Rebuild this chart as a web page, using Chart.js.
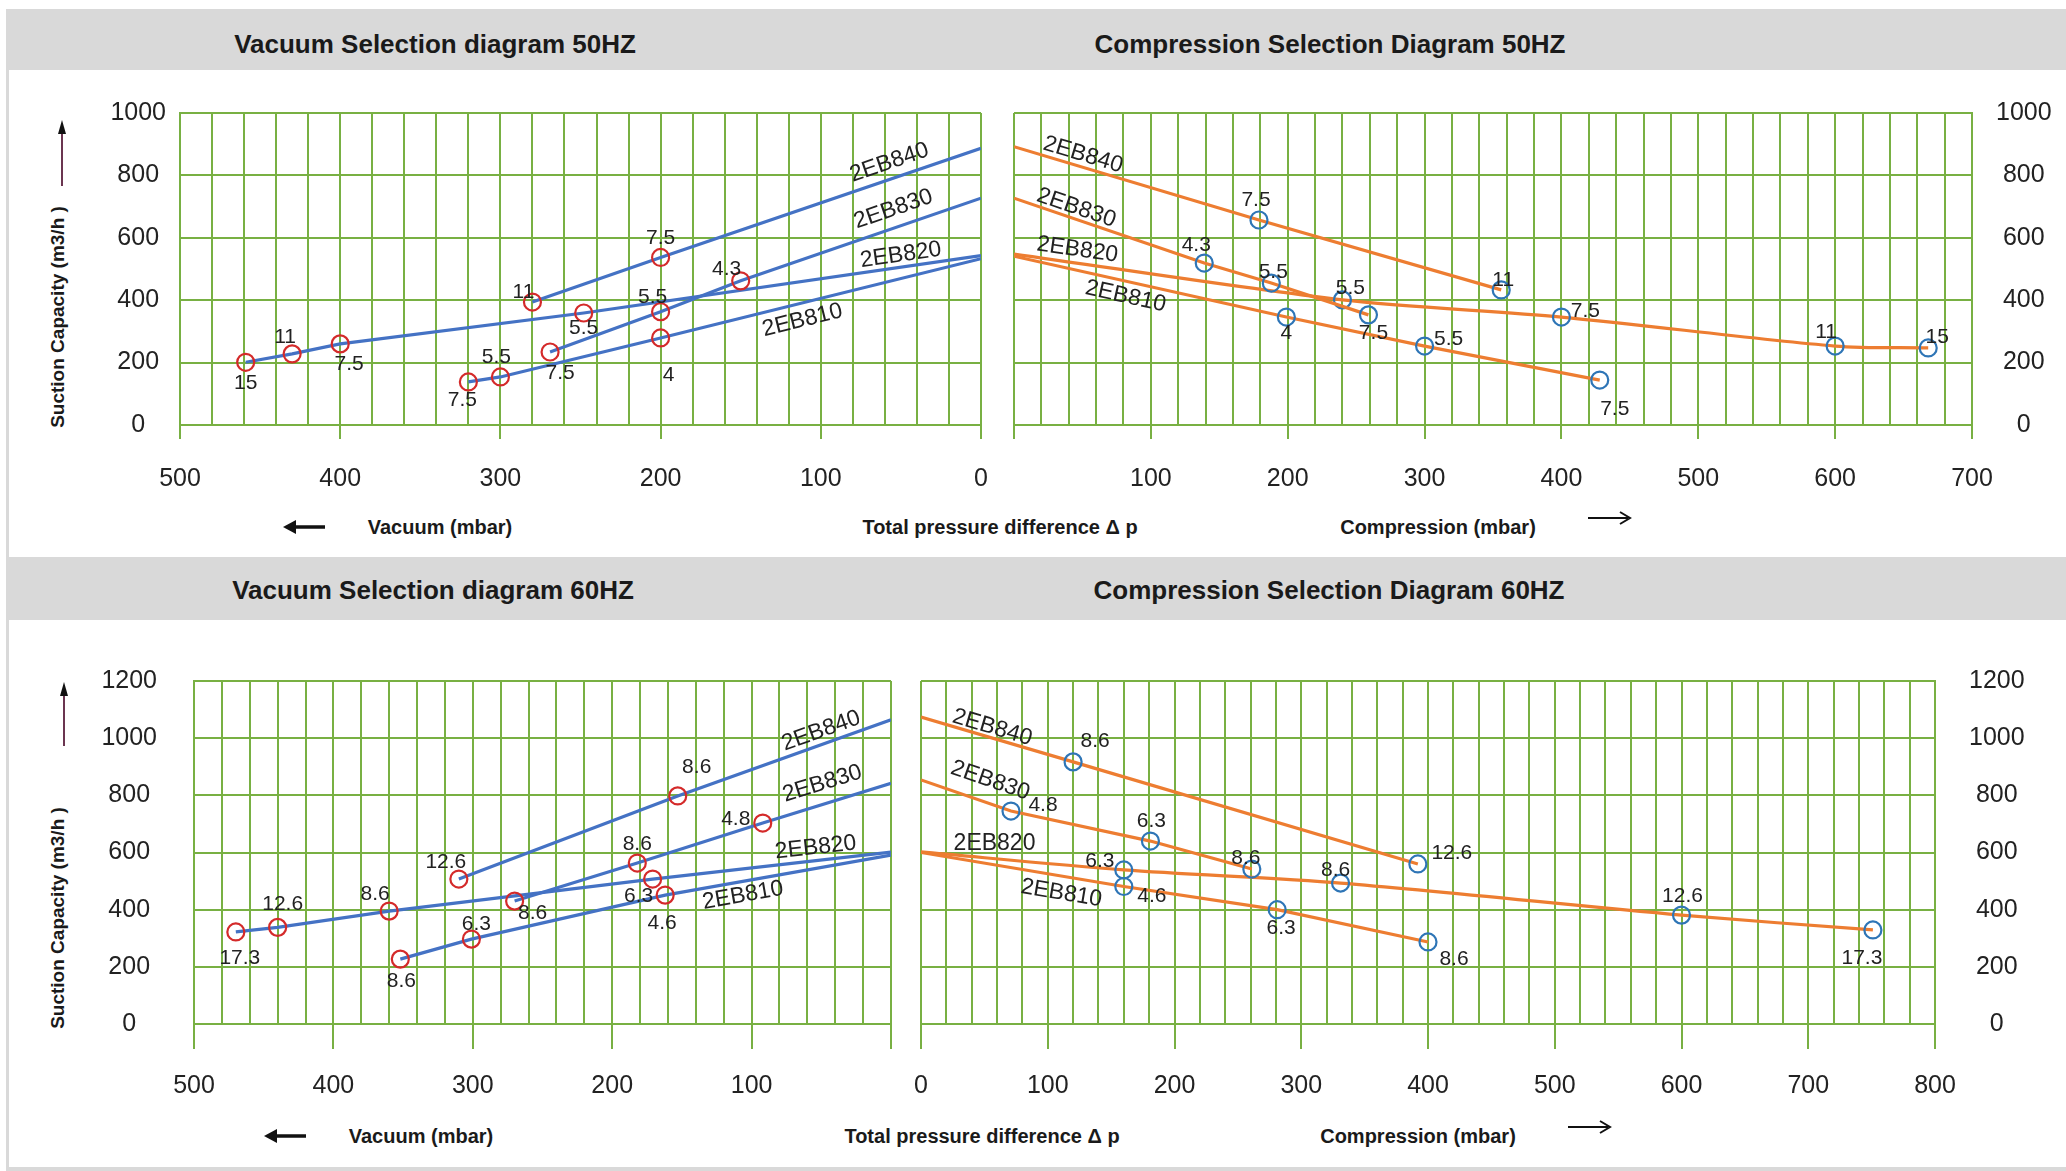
<!DOCTYPE html>
<html>
<head>
<meta charset="utf-8">
<script src="https://cdn.jsdelivr.net/npm/chart.js@4.4.1/dist/chart.umd.min.js"></script>
<style>
body { margin: 0; width: 2066px; height: 1171px; background: #fff; position: relative; overflow: hidden;
       font-family: "Liberation Sans", Arial, sans-serif; color: #1a1a1a; }
.band { position: absolute; left: 7px; width: 2059px; background: #d9d9d9; }
.ttl { position: absolute; font-weight: bold; font-size: 26px; transform: translate(-50%, -50%); white-space: nowrap; }
.cap { position: absolute; font-weight: bold; font-size: 20px; transform: translate(-50%, -50%); white-space: nowrap; }
.ylab { position: absolute; font-weight: bold; font-size: 19px; transform: translate(-50%, -50%) rotate(-90deg); white-space: nowrap; }
canvas, svg { position: absolute; }
</style>
</head>
<body>
<div class="band" style="top:9px;height:61px"></div>
<div class="band" style="top:557px;height:63px"></div>
<div style="position:absolute;left:6px;top:9px;width:3px;height:1162px;background:#d9d9d9"></div>
<div style="position:absolute;left:6px;top:1167px;width:2060px;height:4px;background:#d9d9d9"></div>

<div class="ttl" style="left:435px;top:44px">Vacuum Selection diagram 50HZ</div>
<div class="ttl" style="left:1330px;top:44px">Compression Selection Diagram 50HZ</div>
<div class="ttl" style="left:433px;top:590px">Vacuum Selection diagram 60HZ</div>
<div class="ttl" style="left:1329px;top:590px">Compression Selection Diagram 60HZ</div>

<div class="ylab" style="left:58px;top:317px">Suction Capacity (m3/h )</div>
<div class="ylab" style="left:58px;top:918px">Suction Capacity (m3/h )</div>

<div class="cap" style="left:440px;top:527px">Vacuum (mbar)</div>
<div class="cap" style="left:1000px;top:527px">Total pressure difference Δ p</div>
<div class="cap" style="left:1438px;top:527px">Compression (mbar)</div>
<div class="cap" style="left:421px;top:1136px">Vacuum (mbar)</div>
<div class="cap" style="left:982px;top:1136px">Total pressure difference Δ p</div>
<div class="cap" style="left:1418px;top:1136px">Compression (mbar)</div>

<!-- arrows -->
<svg style="left:52px;top:120px" width="20" height="68"><line x1="10" y1="66" x2="10" y2="10" stroke="#6b3550" stroke-width="2"/><polygon points="10,0 6,14 14,14" fill="#111"/></svg>
<svg style="left:54px;top:682px" width="20" height="66"><line x1="10" y1="64" x2="10" y2="10" stroke="#6b3550" stroke-width="2"/><polygon points="10,0 6,14 14,14" fill="#111"/></svg>
<svg style="left:283px;top:518px" width="44" height="18"><line x1="8" y1="9" x2="42" y2="9" stroke="#111" stroke-width="3.5"/><polygon points="0,9 13,2 13,16" fill="#111"/></svg>
<svg style="left:264px;top:1127px" width="44" height="18"><line x1="8" y1="9" x2="42" y2="9" stroke="#111" stroke-width="3.5"/><polygon points="0,9 13,2 13,16" fill="#111"/></svg>
<svg style="left:1588px;top:509px" width="44" height="18"><line x1="0" y1="9" x2="40" y2="9" stroke="#111" stroke-width="2"/><polyline points="32,3 42,9 32,15" fill="none" stroke="#111" stroke-width="2"/></svg>
<svg style="left:1568px;top:1118px" width="44" height="18"><line x1="0" y1="9" x2="40" y2="9" stroke="#111" stroke-width="2"/><polyline points="32,3 42,9 32,15" fill="none" stroke="#111" stroke-width="2"/></svg>

<canvas id="vac50" width="910" height="405" style="left:90px;top:95px"></canvas>
<canvas id="cmp50" width="1066" height="405" style="left:1000px;top:95px"></canvas>
<canvas id="vac60" width="815" height="460" style="left:90px;top:660px"></canvas>
<canvas id="cmp60" width="1161" height="460" style="left:905px;top:660px"></canvas>

<script>
// values: pressure (mbar), suction capacity (m3/h), motor kW labels

// Vacuum 50 Hz
const vac50_840_x = [280, 200, 0]
const vac50_840_y = [394, 537, 887]
const vac50_840_kw = ['11', '7.5', '']
const vac50_830_x = [269, 200, 150, 0]
const vac50_830_y = [234, 363, 462, 727]
const vac50_830_kw = ['7.5', '5.5', '4.3', '']
const vac50_820_x = [459, 430, 400, 248, 0]
const vac50_820_y = [201, 228, 260, 359, 543]
const vac50_820_kw = ['15', '11', '7.5', '5.5', '']
const vac50_810_x = [320, 300, 200, 0]
const vac50_810_y = [138, 154, 279, 533]
const vac50_810_kw = ['7.5', '5.5', '4', '']

// Compression 50 Hz
const cmp50_840_x = [0, 179, 356]
const cmp50_840_y = [892, 657, 433]
const cmp50_840_kw = ['', '7.5', '11']
const cmp50_830_x = [0, 139, 188, 259]
const cmp50_830_y = [727, 519, 455, 353]
const cmp50_830_kw = ['', '4.3', '5.5', '7.5']
const cmp50_820_x = [0, 240, 400, 600, 668]
const cmp50_820_y = [548, 401, 346, 253, 247]
const cmp50_820_kw = ['', '5.5', '7.5', '11', '15']
const cmp50_810_x = [0, 199, 300, 428]
const cmp50_810_y = [541, 346, 253, 144]
const cmp50_810_kw = ['', '4', '5.5', '7.5']

// Vacuum 60 Hz
const vac60_840_x = [310, 153, 0]
const vac60_840_y = [507, 798, 1064]
const vac60_840_kw = ['12.6', '8.6', '']
const vac60_830_x = [270, 182, 92, 0]
const vac60_830_y = [430, 563, 703, 842]
const vac60_830_kw = ['8.6', '8.6', '4.8', '']
const vac60_820_x = [470, 440, 360, 171, 0]
const vac60_820_y = [322, 338, 395, 507, 601]
const vac60_820_kw = ['17.3', '12.6', '8.6', '6.3', '']
const vac60_810_x = [352, 301, 162, 0]
const vac60_810_y = [227, 297, 451, 591]
const vac60_810_kw = ['8.6', '6.3', '4.6', '']

// Compression 60 Hz
const cmp60_840_x = [0, 120, 392]
const cmp60_840_y = [1074, 917, 560]
const cmp60_840_kw = ['', '8.6', '12.6']
const cmp60_830_x = [0, 71, 181, 261]
const cmp60_830_y = [854, 745, 640, 542]
const cmp60_830_kw = ['', '4.8', '6.3', '8.6']
const cmp60_820_x = [0, 160, 331, 600, 751]
const cmp60_820_y = [602, 539, 493, 381, 329]
const cmp60_820_kw = ['', '6.3', '8.6', '12.6', '17.3']
const cmp60_810_x = [0, 160, 281, 400]
const cmp60_810_y = [600, 481, 400, 287]
const cmp60_810_kw = ['', '4.6', '6.3', '8.6']

const GREEN = '#78b043'
const FONT = '"Liberation Sans", Arial, sans-serif'

// where the kW labels sit relative to their circle (px)
const off = {
    vac50: [[[-9, -10], [0, -19], [0, 0]],
            [[10, 21], [-8, -15], [-14, -12], [0, 0]],
            [[0, 21], [-7, -17], [9, 20], [0, 15], [0, 0]],
            [[-6, 18], [-4, -20], [8, 37], [0, 0]]],
    cmp50: [[[0, 0], [-3, -20], [2, -10]],
            [[0, 0], [-8, -18], [2, -11], [5, 18]],
            [[0, 0], [8, -12], [24, -6], [-9, -14], [9, -11]],
            [[0, 0], [0, 16], [24, -7], [15, 29]]],
    vac60: [[[-13, -17], [19, -29], [0, 0]],
            [[18, 12], [0, -19], [-27, -4], [0, 0]],
            [[4, 26], [5, -23], [-14, -17], [-14, 17], [0, 0]],
            [[1, 22], [5, -15], [-3, 28], [0, 0]]],
    cmp60: [[[0, 0], [22, -21], [34, -11]],
            [[0, 0], [32, -6], [1, -20], [-6, -11]],
            [[0, 0], [-24, -9], [-5, -13], [1, -19], [-11, 28]],
            [[0, 0], [28, 10], [4, 19], [26, 17]]]
}
// model name along the line: pressure where it sits, distance above (+) / below (-) the line
const tags = {
    vac50: [{at: 54, d: 16}, {at: 51, d: 18}, {at: 49, d: 12}, {at: 114, d: -17}],
    cmp50: [{at: 48, d: 12}, {at: 43, d: 11}, {at: 45, d: 13}, {at: 84, d: -15}],
    vac60: [{at: 47, d: 13}, {at: 45, d: 20}, {at: 53, d: 13}, {at: 108, d: -14}],
    cmp60: [{at: 54, d: 10}, {at: 49, d: 22}, {at: 58, d: 15, angle: 0}, {at: 113, d: -17}]
}
const names = ['2EB840', '2EB830', '2EB820', '2EB810']

function between(v, a, b) {
    return v >= Math.min(a, b) && v <= Math.max(a, b)
}

const labelPlugin = {
    id: 'labels',
    afterDatasetsDraw(chart) {
        const ctx = chart.ctx
        const xs = chart.scales.x
        const ys = chart.scales.y
        chart.data.datasets.forEach(function (ds, di) {
            const s = ds.series
            const meta = chart.getDatasetMeta(di)
            ctx.save()
            ctx.fillStyle = '#222'
            ctx.textAlign = 'center'
            ctx.textBaseline = 'middle'
            ctx.font = '21px ' + FONT
            meta.data.forEach(function (pt, i) {
                if (!s.kw[i]) return
                ctx.fillText(s.kw[i], pt.x + s.off[i][0], pt.y + s.off[i][1])
            })
            // model name
            let k = 0
            while (k < s.x.length - 2 && !between(s.tag.at, s.x[k], s.x[k + 1])) k++
            const t = (s.tag.at - s.x[k]) / (s.x[k + 1] - s.x[k])
            const yv = s.y[k] + t * (s.y[k + 1] - s.y[k])
            let x1 = xs.getPixelForValue(s.x[k]), y1 = ys.getPixelForValue(s.y[k])
            let x2 = xs.getPixelForValue(s.x[k + 1]), y2 = ys.getPixelForValue(s.y[k + 1])
            if (x2 < x1) { [x1, x2] = [x2, x1]; [y1, y2] = [y2, y1] }
            const a = s.tag.angle !== undefined ? s.tag.angle : Math.atan2(y2 - y1, x2 - x1)
            const px = xs.getPixelForValue(s.tag.at) + s.tag.d * Math.sin(a)
            const py = ys.getPixelForValue(yv) - s.tag.d * Math.cos(a)
            ctx.translate(px, py)
            ctx.rotate(a)
            ctx.font = '23px ' + FONT
            ctx.fillText(s.name, 0, 0)
            ctx.restore()
        })
    }
}

function makeDataset(name, x, y, kw, o, tag, lineColor, markColor, tension) {
    return {
        series: {name: name, x: x, y: y, kw: kw, off: o, tag: tag},
        data: x.map(function (v, i) { return {x: v, y: y[i]} }),
        showLine: true,
        borderColor: lineColor,
        borderWidth: 3.2,
        tension: tension || 0,
        pointRadius: function (c) { return kw[c.dataIndex] ? 8.5 : 0 },
        pointBorderColor: markColor,
        pointBackgroundColor: 'rgba(0,0,0,0)',
        pointBorderWidth: 2.2
    }
}

// keep the plot box exactly where the layout says, labels may overhang
function noPadding(scale) {
    scale.paddingLeft = 0
    scale.paddingRight = 0
    scale.paddingTop = 0
    scale.paddingBottom = 0
}

function makeChart(id, datasets, o) {
    new Chart(document.getElementById(id), {
        type: 'scatter',
        data: {datasets: datasets},
        plugins: [labelPlugin],
        options: {
            responsive: false,
            animation: false,
            layout: {padding: o.padding},
            plugins: {legend: {display: false}, tooltip: {enabled: false}},
            scales: {
                x: {
                    type: 'linear',
                    min: 0,
                    max: o.xMax,
                    reverse: o.reverse,
                    afterFit: function (scale) { scale.height = o.xH; noPadding(scale) },
                    grid: {
                        color: GREEN,
                        lineWidth: 2,
                        tickLength: o.tickLen,
                        tickWidth: 2,
                        tickColor: function (c) { return c.tick && c.tick.value % 100 === 0 ? GREEN : 'rgba(0,0,0,0)' }
                    },
                    border: {color: GREEN, width: 2},
                    ticks: {
                        stepSize: 20,
                        autoSkip: false,
                        maxRotation: 0,
                        padding: o.xPad,
                        color: '#222',
                        font: {size: 25, family: FONT},
                        callback: function (v) {
                            if (v % 100 !== 0) return ''
                            if (v === 0 && o.hideZero) return ''
                            return String(v)
                        }
                    }
                },
                y: {
                    type: 'linear',
                    position: o.yPos,
                    min: 0,
                    max: o.yMax,
                    afterFit: function (scale) { scale.width = o.yW; noPadding(scale) },
                    grid: {color: GREEN, lineWidth: 2, drawTicks: false},
                    border: {color: GREEN, width: 2},
                    ticks: {
                        stepSize: 200,
                        crossAlign: 'center',
                        padding: o.yPad,
                        color: '#222',
                        font: {size: 25, family: FONT},
                        callback: function (v) { return String(v) }
                    }
                }
            }
        }
    })
}

const BLUE = '#4472c4', RED = '#d42a2a', ORANGE = '#ed7d31', MARK = '#2e75b6'

makeChart('vac50', [
    makeDataset(names[0], vac50_840_x, vac50_840_y, vac50_840_kw, off.vac50[0], tags.vac50[0], BLUE, RED),
    makeDataset(names[1], vac50_830_x, vac50_830_y, vac50_830_kw, off.vac50[1], tags.vac50[1], BLUE, RED),
    makeDataset(names[2], vac50_820_x, vac50_820_y, vac50_820_kw, off.vac50[2], tags.vac50[2], BLUE, RED),
    makeDataset(names[3], vac50_810_x, vac50_810_y, vac50_810_kw, off.vac50[3], tags.vac50[3], BLUE, RED)
], {padding: {top: 18, right: 19, left: 0, bottom: 0}, xMax: 500, reverse: true, xH: 75, tickLen: 14, xPad: 25,
    hideZero: false, yPos: 'left', yMax: 1000, yW: 90, yPad: 14})

makeChart('cmp50', [
    makeDataset(names[0], cmp50_840_x, cmp50_840_y, cmp50_840_kw, off.cmp50[0], tags.cmp50[0], ORANGE, MARK),
    makeDataset(names[1], cmp50_830_x, cmp50_830_y, cmp50_830_kw, off.cmp50[1], tags.cmp50[1], ORANGE, MARK),
    makeDataset(names[2], cmp50_820_x, cmp50_820_y, cmp50_820_kw, off.cmp50[2], tags.cmp50[2], ORANGE, MARK, 0.3),
    makeDataset(names[3], cmp50_810_x, cmp50_810_y, cmp50_810_kw, off.cmp50[3], tags.cmp50[3], ORANGE, MARK)
], {padding: {top: 18, right: 0, left: 14, bottom: 0}, xMax: 700, reverse: false, xH: 75, tickLen: 14, xPad: 25,
    hideZero: true, yPos: 'right', yMax: 1000, yW: 94, yPad: 24})

makeChart('vac60', [
    makeDataset(names[0], vac60_840_x, vac60_840_y, vac60_840_kw, off.vac60[0], tags.vac60[0], BLUE, RED),
    makeDataset(names[1], vac60_830_x, vac60_830_y, vac60_830_kw, off.vac60[1], tags.vac60[1], BLUE, RED),
    makeDataset(names[2], vac60_820_x, vac60_820_y, vac60_820_kw, off.vac60[2], tags.vac60[2], BLUE, RED),
    makeDataset(names[3], vac60_810_x, vac60_810_y, vac60_810_kw, off.vac60[3], tags.vac60[3], BLUE, RED)
], {padding: {top: 21, right: 14, left: 0, bottom: 0}, xMax: 500, reverse: true, xH: 96, tickLen: 25, xPad: 22,
    hideZero: true, yPos: 'left', yMax: 1200, yW: 104, yPad: 37})

makeChart('cmp60', [
    makeDataset(names[0], cmp60_840_x, cmp60_840_y, cmp60_840_kw, off.cmp60[0], tags.cmp60[0], ORANGE, MARK),
    makeDataset(names[1], cmp60_830_x, cmp60_830_y, cmp60_830_kw, off.cmp60[1], tags.cmp60[1], ORANGE, MARK),
    makeDataset(names[2], cmp60_820_x, cmp60_820_y, cmp60_820_kw, off.cmp60[2], tags.cmp60[2], ORANGE, MARK, 0.3),
    makeDataset(names[3], cmp60_810_x, cmp60_810_y, cmp60_810_kw, off.cmp60[3], tags.cmp60[3], ORANGE, MARK)
], {padding: {top: 21, right: 0, left: 16, bottom: 0}, xMax: 800, reverse: false, xH: 96, tickLen: 25, xPad: 22,
    hideZero: false, yPos: 'right', yMax: 1200, yW: 131, yPad: 34})
</script>
</body>
</html>
